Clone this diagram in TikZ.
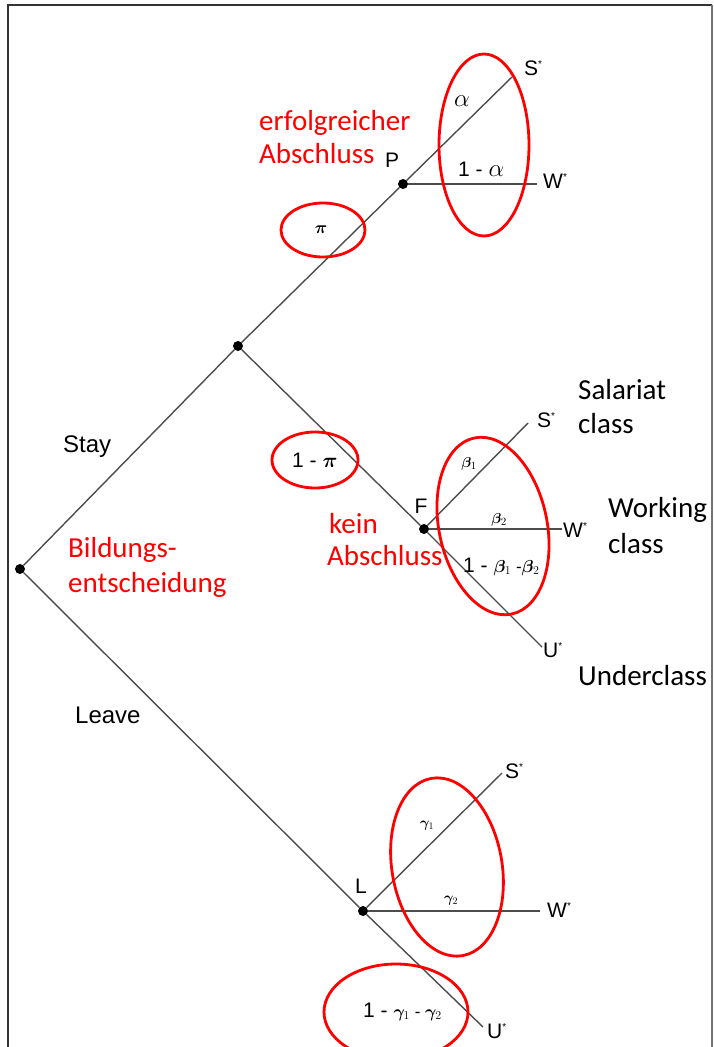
\documentclass[tikz,border=0pt]{standalone}
\usepackage{bm}
\usepackage{fontspec}
\newfontfamily\helv{Liberation Sans}
\newfontfamily\cali{Carlito}
\usetikzlibrary{shapes.geometric}

% small raised star after the outcome letters
\newcommand\starmark{\textsuperscript{\fontsize{10}{10}\selectfont*}}

\tikzset{
  branch/.style={draw=black!70, line width=1.4pt},
  dot/.style={circle, fill=black, inner sep=0pt, minimum size=10pt},
  ring/.style={draw=red, line width=2.8pt, ellipse, inner sep=0pt},
  endlbl/.style={font=\fontsize{21}{25}\selectfont\helv, inner sep=0pt, anchor=base west},
  ptlbl/.style={font=\fontsize{21}{25}\selectfont\helv, inner sep=0pt, anchor=base},
  armlbl/.style={font=\fontsize{24}{28}\selectfont\helv, inner sep=0pt, anchor=base west},
  note/.style={text=red, font=\fontsize{29}{34}\selectfont\cali, inner sep=0pt, anchor=base west},
  cls/.style={text=black, font=\fontsize{29}{34}\selectfont\cali, inner sep=0pt, anchor=base west},
  prob/.style={font=\fontsize{21}{25}\selectfont\helv, inner sep=0pt},
}

\begin{document}
\begin{tikzpicture}[x=1pt,y=-1pt]
\useasboundingbox (0,0) rectangle (714,1047);

% frame (open at the bottom)
\draw[line width=2pt, black!80] (8,1047) -- (8,5) -- (712,5);
\draw[line width=1.2pt, black!55] (712,5) -- (712,1047);

% decision points
\node[dot] (root) at (20,569) {};
\node[dot] (stay) at (238,346) {};
\node[dot] (P) at (403,184) {};
\node[dot] (F) at (424,529) {};
\node[dot] (L) at (363,911) {};

% outcome ends
\coordinate (Ps) at (512,77);
\coordinate (Pw) at (537,184);
\coordinate (Fs) at (528,423);
\coordinate (Fw) at (562,529);
\coordinate (Fu) at (542,647);
\coordinate (Ls) at (502,773);
\coordinate (Lw) at (540,911);
\coordinate (Lu) at (483,1027);

% branches
\draw[branch] (root) -- (stay);
\draw[branch] (stay) -- (P);
\draw[branch] (stay) -- (F);
\draw[branch] (root) -- (L);
\draw[branch] (P) -- (Ps);
\draw[branch] (P) -- (Pw);
\draw[branch] (F) -- (Fs);
\draw[branch] (F) -- (Fw);
\draw[branch] (F) -- (Fu);
\draw[branch] (L) -- (Ls);
\draw[branch] (L) -- (Lw);
\draw[branch] (L) -- (Lu);

% point labels
\node[ptlbl] (Plbl) at (392,167) {P};
\node[ptlbl] (Flbl) at (421,513) {F};
\node[ptlbl] (Llbl) at (361,893) {L};

% outcome labels
\node[endlbl] (PS) at (524,75) {S\starmark};
\node[endlbl] (PW) at (543,188) {W\starmark};
\node[endlbl] (FS) at (537,427) {S\starmark};
\node[endlbl] (FW) at (563,537) {W\starmark};
\node[endlbl] (FU) at (543,657) {U\starmark};
\node[endlbl] (LS) at (505,778) {S\starmark};
\node[endlbl] (LW) at (547,917) {W\starmark};
\node[endlbl] (LU) at (487,1038) {U\starmark};

% arm labels
\node[armlbl] (stayl) at (63,452) {Stay};
\node[armlbl] (leavel) at (75,723) {Leave};

% probabilities
\node[prob] (alpha) at (462,101) {\fontsize{25}{25}\selectfont$\alpha$};
\node[prob, anchor=base west] (nalpha) at (458,176) {1 - {\fontsize{25}{25}\selectfont$\alpha$}};
\node[prob] (pi) at (321,230) {\fontsize{18}{18}\selectfont$\bm{\pi}$};
\node[prob, anchor=base west] (npi) at (292,467) {1 - {\fontsize{20}{20}\selectfont$\bm{\pi}$}};
\node[prob] (b1) at (469,464) {\fontsize{15}{15}\selectfont$\bm{\beta}_{1}$};
\node[prob] (b2) at (499,520) {\fontsize{15}{15}\selectfont$\bm{\beta}_{2}$};
\node[prob, anchor=base west] (nb) at (463,572) {1 - {\fontsize{17}{17}\selectfont$\bm{\beta}_1$ -$\bm{\beta}_2$}};
\node[prob] (g1) at (427,826) {\fontsize{14}{14}\selectfont$\bm{\gamma}_1$};
\node[prob] (g2) at (451,901) {\fontsize{14}{14}\selectfont$\bm{\gamma}_2$};
\node[prob, anchor=base west] (ng) at (363,1017) {1 - {\fontsize{17}{17}\selectfont$\bm{\gamma}_1$ - $\bm{\gamma}_2$}};

% red rings
\node[ring, minimum width=90pt, minimum height=182pt] (ringP) at (484,145) {};
\node[ring, minimum width=84pt, minimum height=54pt] (ringpi) at (323,230) {};
\node[ring, minimum width=86pt, minimum height=56pt] (ringnpi) at (315,460) {};
\node[ring, minimum width=108pt, minimum height=180pt, rotate=12] (ringF) at (493,526) {};
\node[ring, minimum width=110pt, minimum height=180pt, rotate=10] (ringL) at (447,867) {};
\node[ring, minimum width=144pt, minimum height=96pt] (ringng) at (396,1012) {};

% notes
\node[note] (n1) at (259,130) {erfolgreicher};
\node[note] (n2) at (259,163) {Abschluss};
\node[note] (n3) at (329,533) {kein};
\node[note] (n4) at (327,565) {Abschluss};
\node[note] (n5) at (68,557) {Bildungs-};
\node[note] (n6) at (68,592) {entscheidung};

% class names
\node[cls] (c1) at (578,399) {Salariat};
\node[cls] (c2) at (578,433) {class};
\node[cls] (c3) at (608,517) {Working};
\node[cls] (c4) at (608,553) {class};
\node[cls] (c5) at (578,685) {Underclass};
\end{tikzpicture}
\end{document}
